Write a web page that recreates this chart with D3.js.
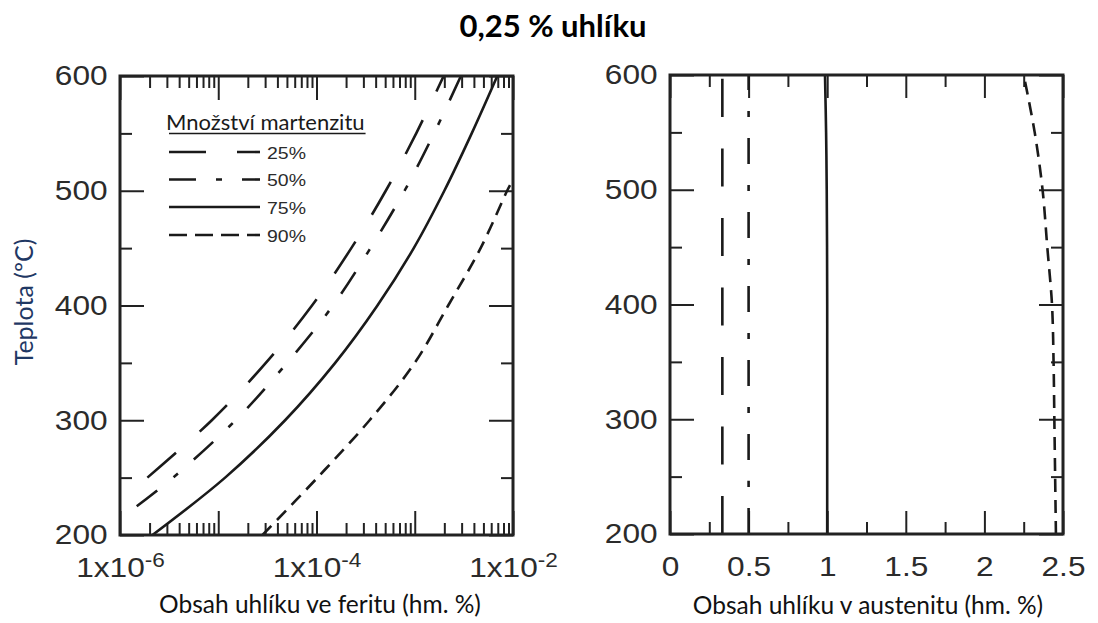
<!DOCTYPE html>
<html>
<head>
<meta charset="utf-8">
<script src="https://cdn.jsdelivr.net/npm/d3@7"></script>
<style>
  body { margin: 0; background: #fff; }
  svg { display: block; }
</style>
</head>
<body>
<svg id="chart" width="1098" height="623"></svg>
<script>
// ---- Data -------------------------------------------------------------
// Martensite fraction series (legend order)
const seriesLabels = ["25%", "50%", "75%", "90%"];

// Carbon content in ferrite (wt. %), log axis, vs. temperature (°C)
const ferriteT25 = [250, 300, 350, 400, 450, 500, 550, 600];
const ferrite25  = [1.9e-6, 8.6e-6, 3.05e-5, 9.0e-5, 2.26e-4, 5.07e-4, 1.035e-3, 1.97e-3];
const ferriteT50 = [225, 250, 300, 350, 400, 450, 500, 550, 600];
const ferrite50  = [1.48e-6, 3.47e-6, 1.5e-5, 5.02e-5, 1.47e-4, 3.54e-4, 7.87e-4, 1.57e-3, 2.95e-3];
const ferriteT75 = [200, 250, 300, 350, 400, 450, 500, 550, 600];
const ferrite75  = [2.14e-6, 1.175e-5, 4.79e-5, 1.55e-4, 4.17e-4, 9.77e-4, 2.0e-3, 3.8e-3, 6.92e-3];
const ferriteT90 = [200, 250, 300, 350, 400, 450, 500, 505];
const ferrite90  = [2.82e-5, 1.023e-4, 3.47e-4, 1.0e-3, 2.19e-3, 4.68e-3, 8.71e-3, 9.33e-3];

// Carbon content in austenite (wt. %) vs. temperature (°C)
const austT   = [200, 250, 300, 350, 400, 450, 500, 550, 600];
const aust25  = [0.333, 0.333, 0.333, 0.333, 0.333, 0.333, 0.333, 0.333, 0.333];
const aust50  = [0.5, 0.5, 0.5, 0.5, 0.5, 0.5, 0.5, 0.5, 0.5];
const aust75  = [1.0, 1.0, 1.0, 1.0, 1.0, 0.999, 0.997, 0.993, 0.986];
const aust90  = [2.455, 2.45, 2.445, 2.44, 2.43, 2.40, 2.37, 2.32, 2.25];

// Axis ticks
const tempMajor = [200, 300, 400, 500, 600];
const tempMinor = [250, 350, 450, 550];
const ferriteLabelTicks = [1e-6, 1e-4, 1e-2];
const austMajor = [0, 0.5, 1, 1.5, 2, 2.5];
const austMinor = [0.25, 0.75, 1.25, 1.75, 2.25];

// ---- Styles -----------------------------------------------------------
const INK = "#222";
const dashStyles = ["38,31.5", "26,21,6,21", null, "13,8"];
const legendDash = ["37,31", "27,20,6,20", null, "18,8"];
const sansUI = "Lato, 'Open Sans', 'Noto Sans', sans-serif";
const sansTick = "'Liberation Sans', Arial, sans-serif";
const TICK_STRETCH = 1.13;

const svg = d3.select("#chart");

svg.append("text")
  .attr("x", 553).attr("y", 37)
  .attr("text-anchor", "middle")
  .attr("font-family", sansUI)
  .attr("font-weight", "bold")
  .attr("font-size", 31)
  .attr("fill", "#000")
  .text("0,25 % uhlíku");

function pairs(ts, vs) { return ts.map((t, i) => ({ t, v: vs[i] })); }

function drawPanel(cfg) {
  const { x, y, id } = cfg;
  const [x0, x1] = x.range();
  const [y1, y0] = y.range();
  const g = svg.append("g").attr("class", "panel-" + id);

  g.append("clipPath").attr("id", "clip-" + id)
    .append("rect").attr("x", x0).attr("y", y0).attr("width", x1 - x0).attr("height", y1 - y0);

  const styleAxis = sel => {
    sel.select(".domain").remove();
    sel.selectAll(".tick line").attr("stroke", INK).attr("stroke-width", 2);
    sel.selectAll(".tick text")
      .attr("font-family", sansTick).attr("font-size", 28).attr("fill", "#2b2b2b")
      .attr("transform", `scale(${TICK_STRETCH},1)`);
  };

  // x axis: bottom (labelled) and top (mirror)
  g.append("g").attr("transform", `translate(0,${y1})`)
    .call(d3.axisBottom(x).tickValues(cfg.xMajor).tickSize(-cfg.majorLen).tickPadding(22).tickFormat(cfg.xFormat))
    .call(styleAxis)
    .call(sel => { if (cfg.xLabelHook) cfg.xLabelHook(sel); });
  g.append("g").attr("transform", `translate(0,${y1})`)
    .call(d3.axisBottom(x).tickValues(cfg.xMinor).tickSize(-cfg.minorLen).tickFormat(""))
    .call(styleAxis);
  g.append("g").attr("transform", `translate(0,${y0})`)
    .call(d3.axisTop(x).tickValues(cfg.xMajor).tickSize(-cfg.majorLen).tickFormat(""))
    .call(styleAxis);
  g.append("g").attr("transform", `translate(0,${y0})`)
    .call(d3.axisTop(x).tickValues(cfg.xMinor).tickSize(-cfg.minorLen).tickFormat(""))
    .call(styleAxis);

  // y axis: left (labelled) and right (mirror)
  g.append("g").attr("transform", `translate(${x0},0)`)
    .call(d3.axisLeft(y).tickValues(tempMajor).tickSize(-24).tickPadding(11).tickFormat(d3.format("d")))
    .call(styleAxis);
  g.append("g").attr("transform", `translate(${x0},0)`)
    .call(d3.axisLeft(y).tickValues(tempMinor).tickSize(-12).tickFormat(""))
    .call(styleAxis);
  g.append("g").attr("transform", `translate(${x1},0)`)
    .call(d3.axisRight(y).tickValues(tempMajor).tickSize(-24).tickFormat(""))
    .call(styleAxis);
  g.append("g").attr("transform", `translate(${x1},0)`)
    .call(d3.axisRight(y).tickValues(tempMinor).tickSize(-12).tickFormat(""))
    .call(styleAxis);

  // curves
  const line = d3.line()
    .x(d => x(d.v)).y(d => y(d.t))
    .curve(d3.curveCatmullRom.alpha(0.5));
  const curves = g.append("g").attr("clip-path", `url(#clip-${id})`);
  cfg.series.forEach((s, i) => {
    curves.append("path")
      .datum(s)
      .attr("d", line)
      .attr("fill", "none")
      .attr("stroke", "#1a1a1a")
      .attr("stroke-width", 2.6)
      .attr("stroke-dasharray", dashStyles[i]);
  });

  // frame
  g.append("rect")
    .attr("x", x0).attr("y", y0).attr("width", x1 - x0).attr("height", y1 - y0)
    .attr("fill", "none").attr("stroke", INK).attr("stroke-width", 3);

  // x title
  g.append("text")
    .attr("x", cfg.titleX).attr("y", cfg.titleY)
    .attr("text-anchor", "middle")
    .attr("font-family", sansUI).attr("font-size", 24.5).attr("fill", "#111")
    .text(cfg.xTitle);
  return g;
}

// ---- Left panel: ferrite, log scale -------------------------------------
const xFer = d3.scaleLog().domain([1e-6, 1e-2]).range([120, 513]);
const yFer = d3.scaleLinear().domain([200, 600]).range([535, 76]);
const ferMajor = d3.range(-6, -1).map(e => Math.pow(10, e));
const ferMinor = [];
for (let e = -6; e < -2; e++) for (let m = 2; m <= 9; m++) ferMinor.push(m * Math.pow(10, e));

drawPanel({
  id: "ferrite", x: xFer, y: yFer,
  xMajor: ferMajor, xMinor: ferMinor, majorLen: 24, minorLen: 12,
  xFormat: d => ferriteLabelTicks.some(v => Math.abs(Math.log10(v) - Math.log10(d)) < 1e-9) ? "1x10" : "",
  xLabelHook: sel => {
    sel.selectAll(".tick text").each(function(d) {
      const t = d3.select(this);
      if (!t.text()) return;
      t.text(null);
      t.append("tspan").text("1x10");
      t.append("tspan").attr("font-size", 20).attr("dy", -10).text(String(Math.round(Math.log10(d))));
    });
  },
  series: [pairs(ferriteT25, ferrite25), pairs(ferriteT50, ferrite50), pairs(ferriteT75, ferrite75), pairs(ferriteT90, ferrite90)],
  xTitle: "Obsah uhlíku ve feritu (hm. %)", titleX: 320, titleY: 613
});

// ---- Right panel: austenite, linear scale --------------------------------
const xAus = d3.scaleLinear().domain([0, 2.5]).range([670, 1063]);
const yAus = d3.scaleLinear().domain([200, 600]).range([534, 75]);

drawPanel({
  id: "austenite", x: xAus, y: yAus,
  xMajor: austMajor, xMinor: austMinor, majorLen: 23, minorLen: 12,
  xFormat: d => String(d),
  series: [pairs(austT, aust25), pairs(austT, aust50), pairs(austT, aust75), pairs(austT, aust90)],
  xTitle: "Obsah uhlíku v austenitu (hm. %)", titleX: 868, titleY: 614
});

// ---- Shared y title ----------------------------------------------------
svg.append("text")
  .attr("transform", "translate(33,302) rotate(-90)")
  .attr("text-anchor", "middle")
  .attr("font-family", sansUI).attr("font-size", 25).attr("fill", "#1f3864")
  .text("Teplota (ºC)");

// ---- Legend ------------------------------------------------------------
const legend = svg.append("g").attr("class", "legend");
const legTitle = legend.append("text")
  .attr("x", 166).attr("y", 129.5)
  .attr("font-family", sansUI).attr("font-size", 22).attr("fill", "#1a1a1a")
  .text("Množství martenzitu");
const legW = legTitle.node().getComputedTextLength();
legend.append("line")
  .attr("x1", 169).attr("x2", 167 + legW).attr("y1", 133.5).attr("y2", 133.5)
  .attr("stroke", "#1a1a1a").attr("stroke-width", 1.3);

const legRowY = [152, 179.5, 207, 235];
seriesLabels.forEach((lab, i) => {
  legend.append("line")
    .attr("x1", 169).attr("x2", 260).attr("y1", legRowY[i]).attr("y2", legRowY[i])
    .attr("stroke", "#1a1a1a").attr("stroke-width", 2.6)
    .attr("stroke-dasharray", legendDash[i]);
  legend.append("text")
    .attr("transform", `translate(267,${legRowY[i] + 6.5}) scale(1.18,1)`)
    .attr("font-family", sansTick).attr("font-size", 16.5).attr("fill", "#2b2b2b")
    .text(lab);
});
</script>
</body>
</html>
